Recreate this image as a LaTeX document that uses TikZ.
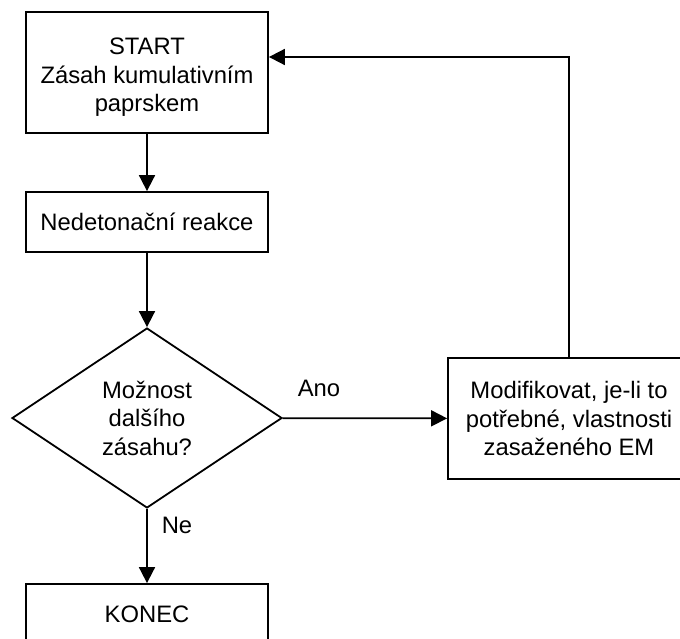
\documentclass[tikz,border=0pt]{standalone}
\usepackage{fontspec}
\setmainfont{Liberation Sans}
\usetikzlibrary{shapes.geometric,arrows.meta}
\begin{document}
\begin{tikzpicture}[x=1pt,y=-1pt,
  every node/.style={font=\fontsize{23.8}{28.5}\selectfont, align=center, inner sep=0pt},
  box/.style={draw, line width=1.8pt, minimum width=242pt, fill=white},
  tallbox/.style={box, minimum height=121pt},
  flatbox/.style={box, minimum height=60pt},
  decision/.style={draw, line width=1.8pt, diamond, aspect=1.5,
    minimum width=270pt, minimum height=180pt},
  link/.style={line width=1.8pt, -{Triangle[length=16pt,width=16pt]}}]
  \clip (0,0) rectangle (680,639);

  % process steps
  \node[tallbox, label={[yshift=-5pt]center:START\\Zásah kumulativním\\paprskem}] (start) at (147,72.5) {};
  \node[flatbox] (react) at (147,222) {Nedetonační reakce};
  \node[decision] (ask) at (147,418) {Možnost\\dalšího\\zásahu?};
  \node[tallbox] (mod) at (569,418.5) {Modifikovat, je-li to\\potřebné, vlastnosti\\zasaženého EM};
  \node[flatbox] (stop) at (147,614) {KONEC};

  % branch labels
  \node (yes) at (319,388) {Ano};
  \node (no) at (177,525) {Ne};

  % connectors
  \draw[link] (start) -- (react);
  \draw[link] (react) -- (ask);
  \draw[link] (ask) -- (mod);
  \draw[link] (ask) -- (stop);
  \coordinate (back) at (569,57);
  \draw[link] (mod.north) -- (back) -- (back -| start.east);
\end{tikzpicture}
\end{document}
